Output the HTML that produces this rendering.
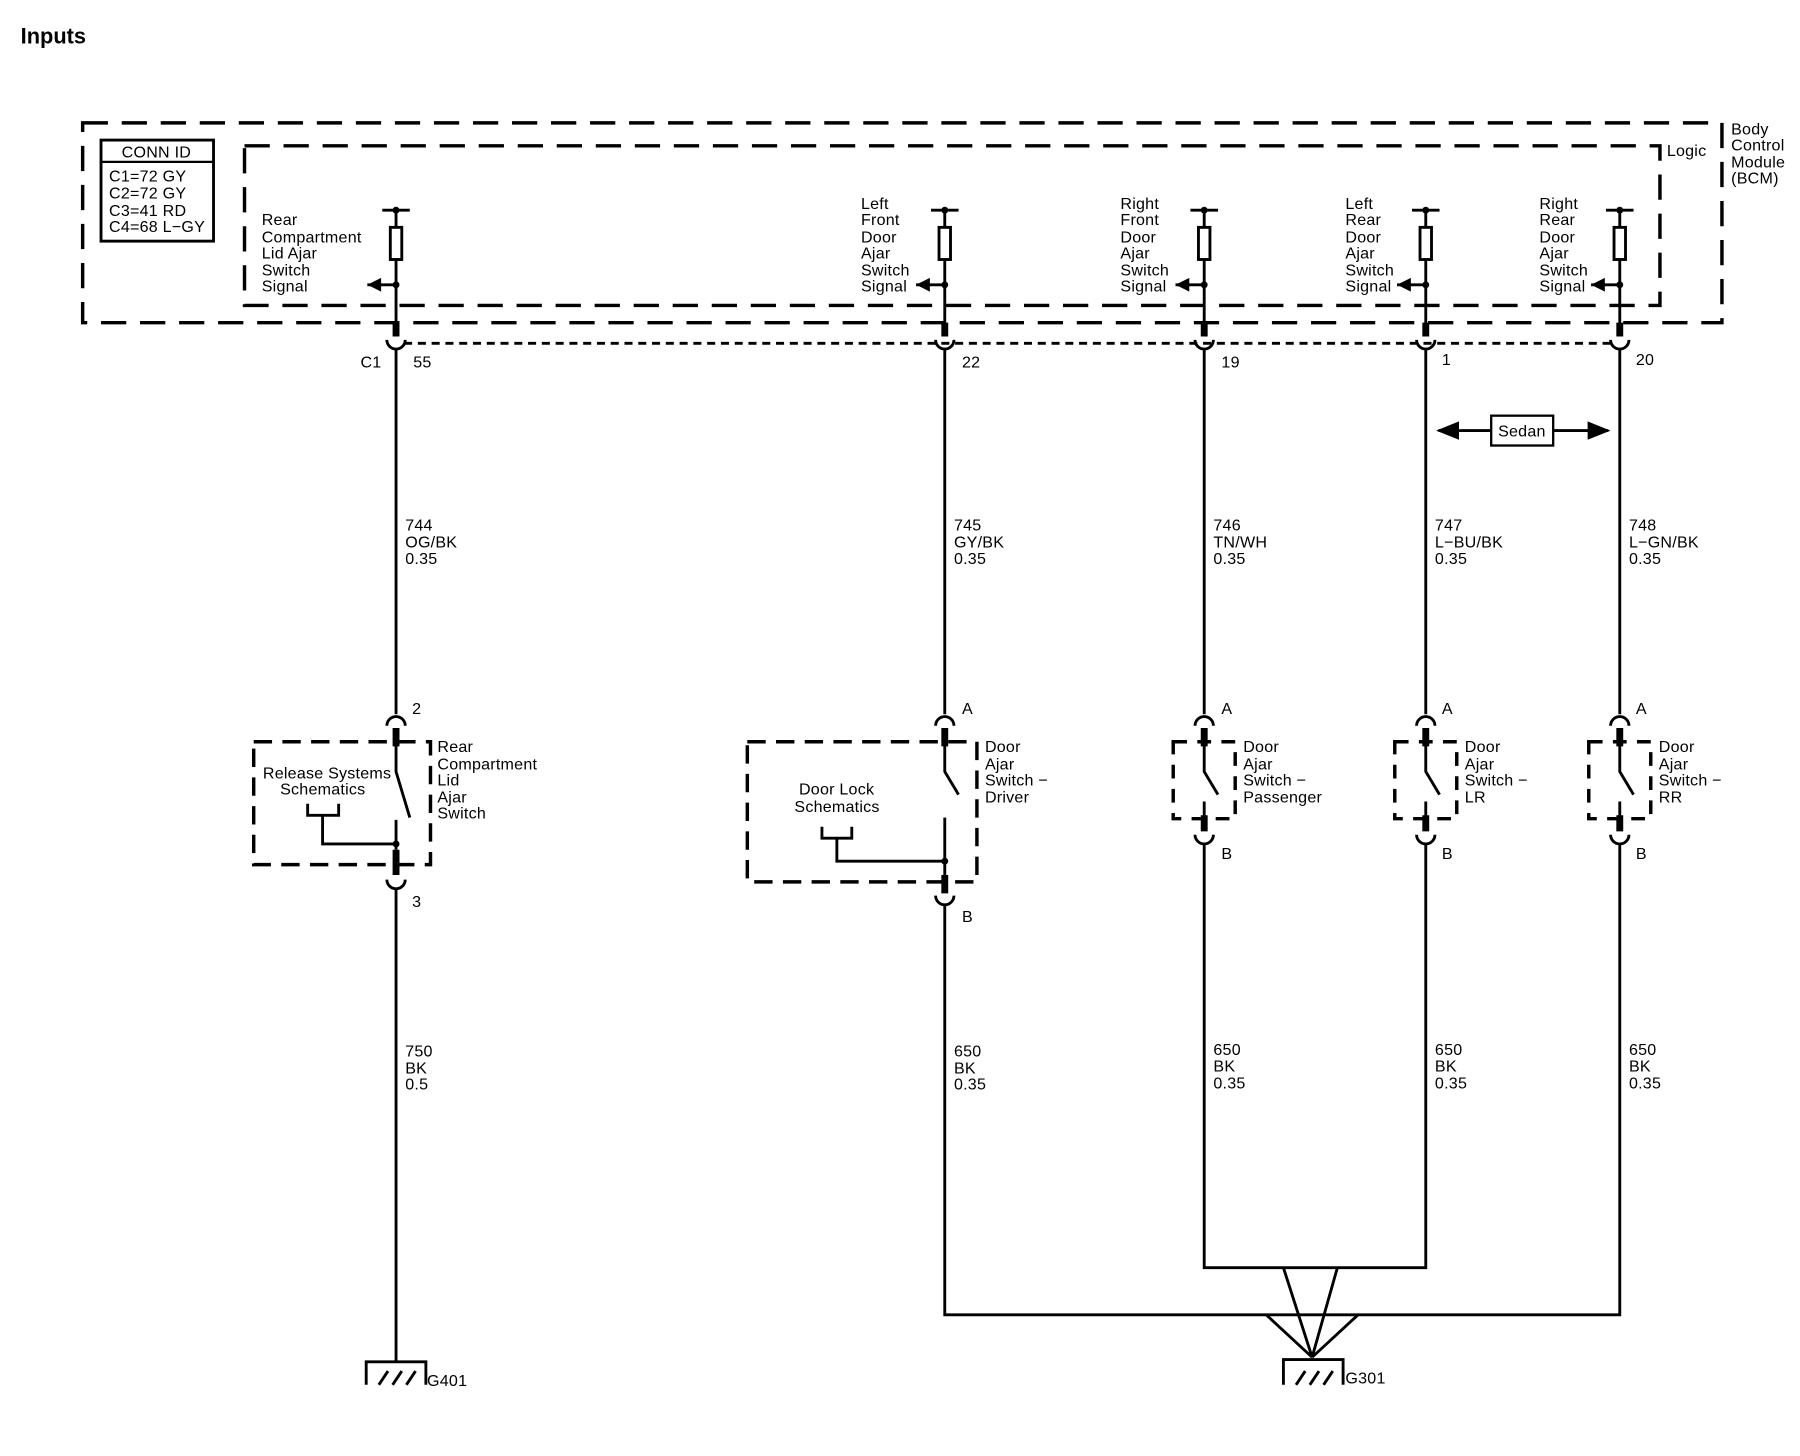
<!DOCTYPE html>
<html><head><meta charset="utf-8"><style>
html,body{margin:0;padding:0;background:#fff;}
svg{display:block;}
text{font-family:"Liberation Sans",Arial,sans-serif;font-size:14px;fill:#000;letter-spacing:0.2px;}
</style></head><body>
<svg width="1800" height="1456" viewBox="0 0 1568 1268" preserveAspectRatio="none" xmlns="http://www.w3.org/2000/svg">
<defs>
<marker id="ah" viewBox="0 0 10 10" refX="9" refY="5" markerWidth="8" markerHeight="8" orient="auto-start-reverse"><path d="M0,1 L10,5 L0,9 z" fill="#000"/></marker>
</defs>
<text x="18" y="38" style="font-size:19px;font-weight:bold;letter-spacing:0">Inputs</text>
<g fill="none" stroke="#000" stroke-width="3">
<rect x="72" y="107" width="1428" height="174" stroke-dasharray="22,12"/>
<rect x="213" y="127" width="1233" height="139" stroke-dasharray="22,12"/>
</g>
<rect x="88" y="122" width="98" height="88" fill="none" stroke="#000" stroke-width="2.5"/>
<line x1="88" y1="141" x2="186" y2="141" stroke="#000" stroke-width="2"/>
<text x="106" y="137">CONN ID</text>
<text x="95" y="158">C1=72 GY</text><text x="95" y="173">C2=72 GY</text><text x="95" y="188">C3=41 RD</text><text x="95" y="202">C4=68 L−GY</text>
<text x="1452" y="136">Logic</text>
<text x="1508" y="117">Body</text><text x="1508" y="131">Control</text><text x="1508" y="146">Module</text><text x="1508" y="160">(BCM)</text>
<line x1="352" y1="299" x2="1405" y2="299" stroke="#000" stroke-width="2.5" stroke-dasharray="7,5"/>
<g stroke="#000" stroke-width="2.5" fill="none">
<path d="M333,183H357M345,183V198M345,226V293M320,248H345"/>
<path d="M811,183H835M823,183V198M823,226V293M798,248H823"/>
<path d="M1037,183H1061M1049,183V198M1049,226V293M1024,248H1049"/>
<path d="M1230,183H1254M1242,183V198M1242,226V293M1217,248H1242"/>
<path d="M1399,183H1423M1411,183V198M1411,226V293M1386,248H1411"/>
<rect x="340" y="198" width="10" height="28"/><rect x="818" y="198" width="10" height="28"/><rect x="1044" y="198" width="10" height="28"/><rect x="1237" y="198" width="10" height="28"/><rect x="1406" y="198" width="10" height="28"/>
<path d="M337,296a8,8 0 0 0 16,0M815,296a8,8 0 0 0 16,0M1041,296a8,8 0 0 0 16,0M1234,296a8,8 0 0 0 16,0M1403,296a8,8 0 0 0 16,0"/>
<path d="M345,304V622M823,304V622M1049,304V622M1242,304V622M1411,304V622"/>
<path d="M337,632a8,8 0 0 1 16,0M815,632a8,8 0 0 1 16,0M1041,632a8,8 0 0 1 16,0M1234,632a8,8 0 0 1 16,0M1403,632a8,8 0 0 1 16,0"/>
<path d="M345,648V672L357,712M345,714V740"/>
<rect x="221" y="646" width="154" height="107" stroke-width="3" stroke-dasharray="16,9"/>
<path d="M268,700V710H295V700M281,710V735H345"/>
<path d="M337,766a8,8 0 0 0 16,0M345,774V1186"/>
<path d="M823,648V672L835,692M823,712V775"/>
<rect x="651" y="646" width="200" height="122" stroke-width="3" stroke-dasharray="16,9"/>
<path d="M716,720V730H742V720M729,730V750H823"/>
<path d="M815,780a8,8 0 0 0 16,0M823,788V1145H1411V734"/>
<path d="M1049,648V672L1061,692M1049,698V720M1242,648V672L1254,692M1242,698V720M1411,648V672L1423,692M1411,698V720"/>
<rect x="1022" y="646" width="54" height="67" stroke-width="3" stroke-dasharray="12,9"/>
<rect x="1215" y="646" width="54" height="67" stroke-width="3" stroke-dasharray="12,9"/>
<rect x="1384" y="646" width="54" height="67" stroke-width="3" stroke-dasharray="12,9"/>
<path d="M1041,727a8,8 0 0 0 16,0M1234,727a8,8 0 0 0 16,0M1403,727a8,8 0 0 0 16,0"/>
<path d="M1049,734V1104H1242V734"/>
<path d="M1118,1104L1143,1182M1165,1104L1143,1182M1103,1145L1143,1182M1183,1145L1143,1182"/>
<path d="M345,1186H319V1206M345,1186H371V1206M330,1206l8,-12M342,1206l8,-12M354,1206l8,-12"/>
<path d="M1143,1184H1118V1206M1143,1184H1170V1206M1129,1206l8,-12M1141,1206l8,-12M1153,1206l8,-12"/>
<rect x="1299" y="362" width="54" height="26" stroke-width="2"/>
<line x1="1299" y1="375" x2="1253" y2="375" marker-end="url(#ah)"/>
<line x1="1353" y1="375" x2="1401" y2="375" marker-end="url(#ah)"/>
</g>
<g stroke="#000" stroke-width="6">
<path d="M345,281V293M823,281V293M1049,281V293M1242,281V293M1411,281V293"/>
<path d="M345,634V650M823,634V650M1049,634V650M1242,634V650M1411,634V650"/>
<path d="M345,740V762M823,762V778M1049,710V724M1242,710V724M1411,710V724"/>
</g>
<g fill="#000">
<circle cx="345" cy="183" r="3"/><circle cx="823" cy="183" r="3"/><circle cx="1049" cy="183" r="3"/><circle cx="1242" cy="183" r="3"/><circle cx="1411" cy="183" r="3"/>
<circle cx="345" cy="248" r="3"/><circle cx="823" cy="248" r="3"/><circle cx="1049" cy="248" r="3"/><circle cx="1242" cy="248" r="3"/><circle cx="1411" cy="248" r="3"/>
<circle cx="345" cy="735" r="3"/><circle cx="823" cy="750" r="3"/>
<path d="M320,248l12,-6v12z M798,248l12,-6v12z M1024,248l12,-6v12z M1217,248l12,-6v12z M1386,248l12,-6v12z"/>
</g>
<text x="228" y="196">Rear</text><text x="228" y="211">Compartment</text><text x="228" y="225">Lid Ajar</text><text x="228" y="240">Switch</text><text x="228" y="254">Signal</text>
<text x="750" y="182">Left</text><text x="750" y="196">Front</text><text x="750" y="211">Door</text><text x="750" y="225">Ajar</text><text x="750" y="240">Switch</text><text x="750" y="254">Signal</text>
<text x="976" y="182">Right</text><text x="976" y="196">Front</text><text x="976" y="211">Door</text><text x="976" y="225">Ajar</text><text x="976" y="240">Switch</text><text x="976" y="254">Signal</text>
<text x="1172" y="182">Left</text><text x="1172" y="196">Rear</text><text x="1172" y="211">Door</text><text x="1172" y="225">Ajar</text><text x="1172" y="240">Switch</text><text x="1172" y="254">Signal</text>
<text x="1341" y="182">Right</text><text x="1341" y="196">Rear</text><text x="1341" y="211">Door</text><text x="1341" y="225">Ajar</text><text x="1341" y="240">Switch</text><text x="1341" y="254">Signal</text>
<text x="314" y="320">C1</text><text x="360" y="320">55</text><text x="838" y="320">22</text><text x="1064" y="320">19</text><text x="1256" y="318">1</text><text x="1425" y="318">20</text>
<text x="1305" y="380">Sedan</text>
<text x="353" y="462">744</text><text x="353" y="477">OG/BK</text><text x="353" y="491">0.35</text>
<text x="831" y="462">745</text><text x="831" y="477">GY/BK</text><text x="831" y="491">0.35</text>
<text x="1057" y="462">746</text><text x="1057" y="477">TN/WH</text><text x="1057" y="491">0.35</text>
<text x="1250" y="462">747</text><text x="1250" y="477">L−BU/BK</text><text x="1250" y="491">0.35</text>
<text x="1419" y="462">748</text><text x="1419" y="477">L−GN/BK</text><text x="1419" y="491">0.35</text>
<text x="359" y="622">2</text><text x="838" y="622">A</text><text x="1064" y="622">A</text><text x="1256" y="622">A</text><text x="1425" y="622">A</text>
<text x="381" y="655">Rear</text><text x="381" y="670">Compartment</text><text x="381" y="684">Lid</text><text x="381" y="699">Ajar</text><text x="381" y="713">Switch</text>
<text x="229" y="678">Release Systems</text><text x="244" y="692">Schematics</text>
<text x="696" y="692">Door Lock</text><text x="692" y="707">Schematics</text>
<text x="858" y="655">Door</text><text x="858" y="670">Ajar</text><text x="858" y="684">Switch −</text><text x="858" y="699">Driver</text>
<text x="1083" y="655">Door</text><text x="1083" y="670">Ajar</text><text x="1083" y="684">Switch −</text><text x="1083" y="699">Passenger</text>
<text x="1276" y="655">Door</text><text x="1276" y="670">Ajar</text><text x="1276" y="684">Switch −</text><text x="1276" y="699">LR</text>
<text x="1445" y="655">Door</text><text x="1445" y="670">Ajar</text><text x="1445" y="684">Switch −</text><text x="1445" y="699">RR</text>
<text x="359" y="790">3</text><text x="838" y="803">B</text><text x="1064" y="748">B</text><text x="1256" y="748">B</text><text x="1425" y="748">B</text>
<text x="353" y="920">750</text><text x="353" y="935">BK</text><text x="353" y="949">0.5</text>
<text x="831" y="920">650</text><text x="831" y="935">BK</text><text x="831" y="949">0.35</text>
<text x="1057" y="919">650</text><text x="1057" y="933">BK</text><text x="1057" y="948">0.35</text>
<text x="1250" y="919">650</text><text x="1250" y="933">BK</text><text x="1250" y="948">0.35</text>
<text x="1419" y="919">650</text><text x="1419" y="933">BK</text><text x="1419" y="948">0.35</text>
<text x="372" y="1207">G401</text><text x="1172" y="1205">G301</text>
</svg>
</body></html>
